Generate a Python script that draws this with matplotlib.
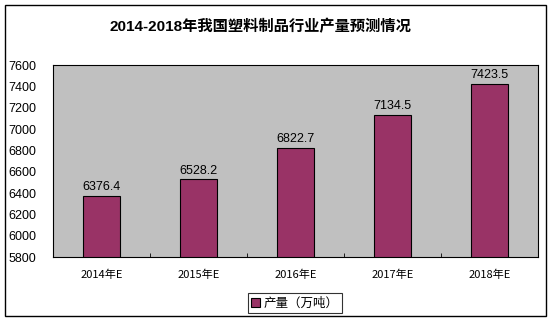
import matplotlib.pyplot as plt
import matplotlib.patches as mpatches
import numpy as np

plt.rcParams['font.family'] = ['Liberation Sans', 'Noto Sans CJK SC', 'DejaVu Sans']

# data
years = ['2014年E', '2015年E', '2016年E', '2017年E', '2018年E']
output = [6376.4, 6528.2, 6822.7, 7134.5, 7423.5]
yticks = [5800, 6000, 6200, 6400, 6600, 6800, 7000, 7200, 7400, 7600]

W, H = 554, 323
fig = plt.figure(figsize=(W/100, H/100), dpi=100)

# outer frame
fig.patches.append(mpatches.Rectangle((5/W, 1 - 316/H), 541/W, 311/H, transform=fig.transFigure,
                                      fill=False, edgecolor='black', linewidth=1))

ax = fig.add_axes([53/W, 1 - 257/H, 485/W, 192/H])
ax.set_facecolor('#C0C0C0')

x = np.arange(len(years))
ax.bar(x, output, width=0.39, color='#993366', edgecolor='black', linewidth=0.8, zorder=2)
for xi, v in zip(x, output):
    ax.text(xi, v + 25, '%.1f' % v, ha='center', va='bottom', fontsize=9)

ax.set_ylim(5800, 7600)
ax.set_xlim(-0.5, len(years) - 0.5)
ax.set_yticks(yticks)
ax.set_yticklabels([str(t) for t in yticks], fontsize=9)
ax.tick_params(axis='y', length=0, pad=12)

ax.set_xticks(x)
ax.set_xticklabels(years, fontsize=8, family=['Noto Sans CJK SC'])
ax.tick_params(axis='x', length=0, pad=9)
ax.set_xticks(np.arange(-0.5, len(years), 1.0), minor=True)
ax.tick_params(axis='x', which='minor', length=3, direction='in')

for s in ax.spines.values():
    s.set_linewidth(0.8)

fig.text(260/W, 1 - 27/H, '2014-2018年我国塑料制品行业产量预测情况', ha='center', va='center',
         fontsize=11, fontweight='bold', family=['Liberation Sans', 'Noto Sans CJK SC'])

handle = mpatches.Patch(facecolor='#993366', edgecolor='black', linewidth=0.8)
leg = fig.legend([handle], ['产量（万吨）'], loc='center', bbox_to_anchor=(295/W, 1 - 303/H),
                 frameon=True, fancybox=False, handlelength=0.7, handleheight=0.7,
                 handletextpad=0.3, borderpad=0.25, prop={'family': ['Noto Sans CJK SC'], 'size': 9})
leg.get_frame().set_edgecolor('black')
leg.get_frame().set_linewidth(0.8)

fig.savefig('out.png', dpi=100)
